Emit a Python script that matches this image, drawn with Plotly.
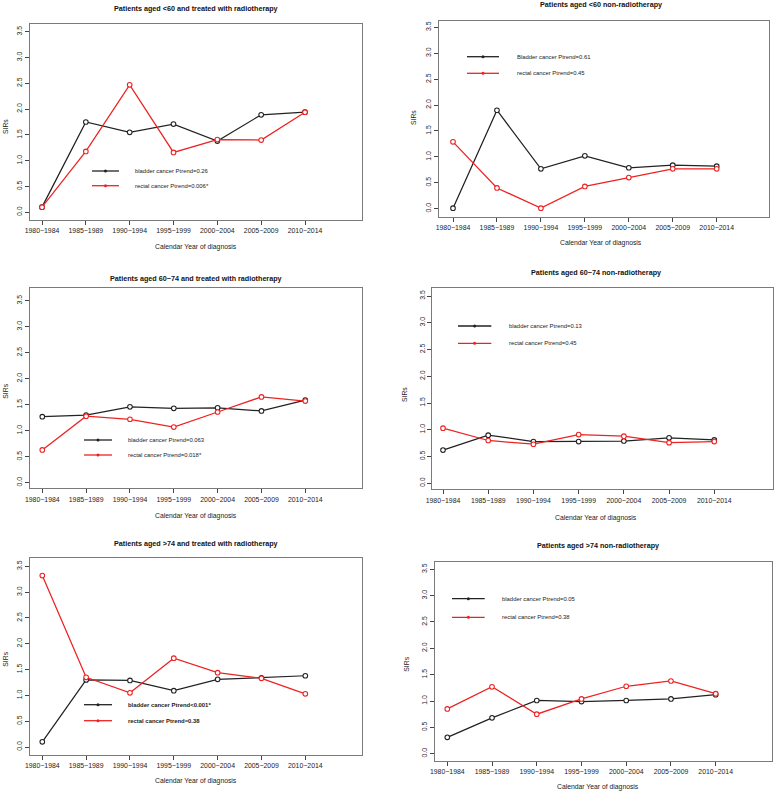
import plotly.graph_objects as go

W, H = 776, 793

periods = ["1980−1984", "1985−1989", "1990−1994", "1995−1999", "2000−2004", "2005−2009", "2010−2014"]
y_ticks = [0.0, 0.5, 1.0, 1.5, 2.0, 2.5, 3.0, 3.5]
y_tick_labels = ["0.0", "0.5", "1.0", "1.5", "2.0", "2.5", "3.0", "3.5"]

titles = [
    "Patients aged <60 and treated with radiotherapy",
    "Patients aged <60 non-radiotherapy",
    "Patients aged 60−74 and treated with radiotherapy",
    "Patients aged 60−74 non-radiotherapy",
    "Patients aged >74 and treated with radiotherapy",
    "Patients aged >74 non-radiotherapy",
]

bladder_lt60_rt = [0.10, 1.75, 1.55, 1.71, 1.38, 1.89, 1.94]
rectal_lt60_rt = [0.10, 1.18, 2.47, 1.16, 1.41, 1.40, 1.94]
bladder_lt60_non = [0.01, 1.90, 0.77, 1.02, 0.79, 0.84, 0.82]
rectal_lt60_non = [1.29, 0.40, 0.01, 0.43, 0.60, 0.77, 0.77]
bladder_6074_rt = [1.27, 1.30, 1.46, 1.43, 1.44, 1.38, 1.59]
rectal_6074_rt = [0.63, 1.28, 1.22, 1.07, 1.36, 1.65, 1.57]
bladder_6074_non = [0.62, 0.90, 0.78, 0.78, 0.79, 0.85, 0.81]
rectal_6074_non = [1.03, 0.80, 0.73, 0.91, 0.88, 0.76, 0.78]
bladder_gt74_rt = [0.10, 1.30, 1.29, 1.09, 1.31, 1.34, 1.38]
rectal_gt74_rt = [3.32, 1.35, 1.05, 1.72, 1.44, 1.33, 1.03]
bladder_gt74_non = [0.31, 0.68, 1.01, 0.99, 1.01, 1.04, 1.12]
rectal_gt74_non = [0.85, 1.27, 0.75, 1.04, 1.28, 1.38, 1.14]

bladder_series = [bladder_lt60_rt, bladder_lt60_non, bladder_6074_rt, bladder_6074_non, bladder_gt74_rt, bladder_gt74_non]
rectal_series = [rectal_lt60_rt, rectal_lt60_non, rectal_6074_rt, rectal_6074_non, rectal_gt74_rt, rectal_gt74_non]

bladder_labels = ["bladder cancer Ptrend=0.26", "Bladder cancer Ptrend=0.61", "bladder cancer Ptrend=0.063",
                  "bladder cancer Ptrend=0.13", "bladder cancer Ptrend<0.001*", "bladder cancer Ptrend=0.05"]
rectal_labels = ["rectal cancer Ptrend=0.006*", "rectal cancer Ptrend=0.45", "rectal cancer Ptrend=0.018*",
                 "rectal cancer Ptrend=0.45", "rectal cancer Ptrend=0.38", "rectal cancer Ptrend=0.38"]

x_title = "Calendar Year of diagnosis"
y_title = "SIRs"

# ---- layout geometry (pixels) ----
# box L, R, T, B; pixel of category 1 and 7; pixel of y=0 and y=3.5
panels = [
    dict(L=30, R=362, T=24, B=220, x1=42, x7=305, y0=212.3, y35=31.7,
         ty=9, tx=196, xty=247, sx=6, sy=127, lg=(92, 119, 171, 185.7, 133), bold=False),
    dict(L=439, R=768.7, T=20.7, B=216.7, x1=453, x7=716.7, y0=208.7, y35=27.3,
         ty=5, tx=600.5, xty=243, sx=414, sy=118, lg=(467, 499, 56.7, 73.3, 514.7), bold=False),
    dict(L=30, R=362, T=288.3, B=488.3, x1=42.3, x7=305.3, y0=482.7, y35=300.7,
         ty=278.3, tx=196, xty=515.7, sx=6, sy=391.7, lg=(84, 112, 440, 455, 125.7), bold=False),
    dict(L=432.3, R=773, T=288.3, B=489.3, x1=443, x7=714.3, y0=483.3, y35=296,
         ty=272.3, tx=595.7, xty=517.7, sx=404, sy=395, lg=(458, 491.3, 326, 343.3, 507), bold=False),
    dict(L=30, R=362, T=558, B=754.7, x1=42.3, x7=305.3, y0=747, y35=566.3,
         ty=543.7, tx=196, xty=781.3, sx=6, sy=659.7, lg=(84, 112, 704.7, 720.7, 125.7), bold=True),
    dict(L=435, R=772.3, T=561.7, B=760.7, x1=447.3, x7=715.7, y0=753.7, y35=569.3,
         ty=545.7, tx=597.7, xty=786.5, sx=407, sy=664.7, lg=(452, 484.7, 598.7, 617.3, 500.3), bold=False),
]

FONT = "Liberation Sans, Arial, Helvetica, sans-serif"
BOXC = "#7a7a7a"
TXTC = "#222222"
RED = "#ee2222"
BLK = "#222222"

def px(x):
    return x / W

def py(y):
    return 1 - y / H

fig = go.Figure()
layout = dict(width=W, height=H, margin=dict(l=0, r=0, t=0, b=0, pad=0, autoexpand=False),
              paper_bgcolor="white", plot_bgcolor="white", showlegend=False,
              font=dict(family=FONT, color=TXTC))
annotations = []
shapes = []
cats = list(range(1, len(periods) + 1))

for i, p in enumerate(panels):
    n = "" if i == 0 else str(i + 1)
    xa, ya = "x" + n, "y" + n
    ux = 6 / (p["x7"] - p["x1"])
    xr = [1 - (p["x1"] - p["L"]) * ux, 7 + (p["R"] - p["x7"]) * ux]
    uy = 3.5 / (p["y0"] - p["y35"])
    yr = [-(p["B"] - p["y0"]) * uy, 3.5 + (p["y35"] - p["T"]) * uy]
    layout["xaxis" + n] = dict(domain=[px(p["L"]), px(p["R"])], anchor=ya, range=xr,
                               automargin=False,
                               tickmode="array", tickvals=cats, ticktext=periods,
                               ticks="outside", ticklen=4, tickwidth=1, tickcolor="#444",
                               showline=True, mirror=True, linecolor=BOXC, linewidth=1,
                               showgrid=False, zeroline=False, tickangle=0,
                               tickfont=dict(size=6.9, color=TXTC, family=FONT))
    layout["yaxis" + n] = dict(domain=[py(p["B"]), py(p["T"])], anchor=xa, range=yr,
                               automargin=False,
                               tickmode="array", tickvals=y_ticks, ticktext=y_tick_labels,
                               ticks="outside", ticklen=4, tickwidth=1, tickcolor="#444",
                               showline=True, mirror=True, linecolor=BOXC, linewidth=1,
                               showgrid=False, zeroline=False, tickangle=-90,
                               tickfont=dict(size=6.9, color=TXTC, family=FONT))
    for vals, col in ((bladder_series[i], BLK), (rectal_series[i], RED)):
        fig.add_trace(go.Scatter(x=cats, y=vals, xaxis=xa, yaxis=ya, mode="lines+markers",
                                 line=dict(color=col, width=1.25),
                                 marker=dict(symbol="circle", size=4.6, color="white",
                                             line=dict(color=col, width=1.1)),
                                 cliponaxis=False))
    # title
    annotations.append(dict(x=px(p["tx"]), y=py(p["ty"]), xref="paper", yref="paper",
                            text="<b>" + titles[i] + "</b>", showarrow=False,
                            xanchor="center", yanchor="middle",
                            font=dict(size=7.2, family=FONT, color="#111")))
    annotations.append(dict(x=px(p["tx"]), y=py(p["xty"]), xref="paper", yref="paper",
                            text=x_title, showarrow=False, xanchor="center", yanchor="middle",
                            font=dict(size=6.8, family=FONT, color=TXTC)))
    annotations.append(dict(x=px(p["sx"]), y=py(p["sy"]), xref="paper", yref="paper",
                            text=y_title, showarrow=False, textangle=-90,
                            xanchor="center", yanchor="middle",
                            font=dict(size=6.8, family=FONT, color=TXTC)))
    # legend
    lx0, lx1, ly1, ly2, ltx = p["lg"]
    for ly, col, lab in ((ly1, BLK, bladder_labels[i]), (ly2, RED, rectal_labels[i])):
        shapes.append(dict(type="line", xref="paper", yref="paper",
                           x0=px(lx0), x1=px(lx1), y0=py(ly), y1=py(ly),
                           line=dict(color=col, width=1.3)))
        shapes.append(dict(type="circle", xref="paper", yref="paper",
                           xsizemode="pixel", ysizemode="pixel",
                           xanchor=px((lx0 + lx1) / 2), yanchor=py(ly),
                           x0=-1.5, x1=1.5, y0=-1.5, y1=1.5,
                           fillcolor=col, line=dict(color=col, width=0)))
        t = "<b>" + lab + "</b>" if p["bold"] else lab
        annotations.append(dict(x=px(ltx), y=py(ly), xref="paper", yref="paper",
                                text=t, showarrow=False, xanchor="left", yanchor="middle",
                                font=dict(size=5.9, family=FONT, color=TXTC)))

layout["annotations"] = annotations
layout["shapes"] = shapes
fig.update_layout(**layout)
fig.write_html("out.html", config={"displayModeBar": False, "staticPlot": True},
               post_script="document.body.style.margin='0';document.body.style.overflow='hidden';")
